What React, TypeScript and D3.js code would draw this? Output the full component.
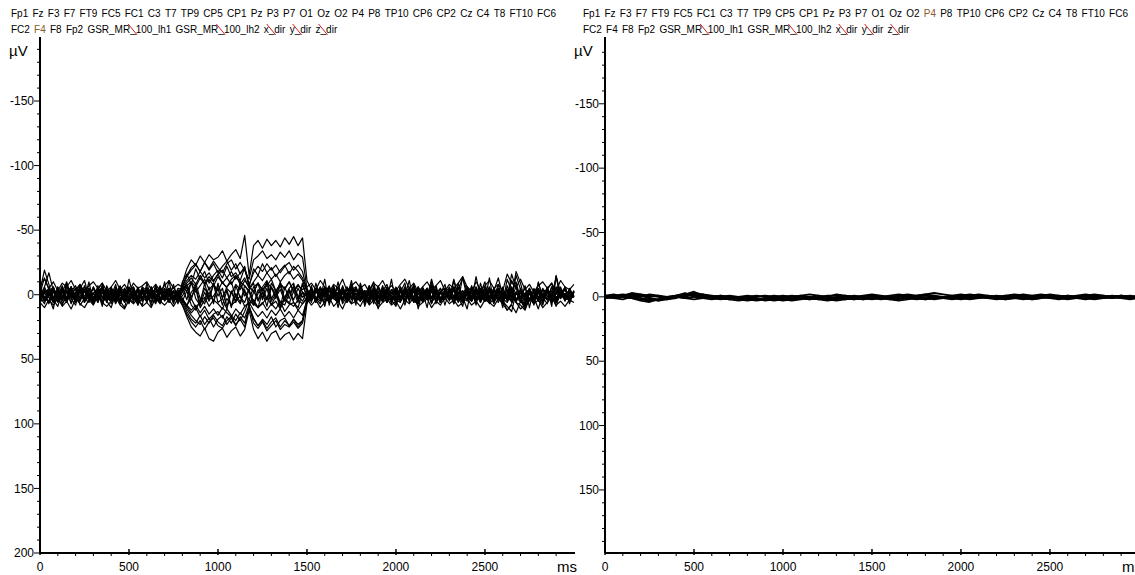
import React from 'react';
import * as d3 from 'd3';

// sample grids (ms)
const timeLeftMs: number[] = d3.range(0, 3001, 25);
const timeRightMs: number[] = d3.range(0, 3001, 50);

const channelRow1: string[] = ['Fp1','Fz','F3','F7','FT9','FC5','FC1','C3','T7','TP9','CP5','CP1','Pz','P3','P7','O1','Oz','O2','P4','P8','TP10','CP6','CP2','Cz','C4','T8','FT10','FC6'];
const channelRow2: string[] = ['FC2','F4','F8','Fp2','GSR_MR_100_lh1','GSR_MR_100_lh2','x_dir','y_dir','z_dir'];

const xTickLabels: number[] = [0, 500, 1000, 1500, 2000, 2500];
const yTickLabelsLeft: number[] = [-150, -100, -50, 0, 50, 100, 150, 200];
const yTickLabelsRight: number[] = [-150, -100, -50, 0, 50, 100, 150];

// Left panel traces, one value every 25 ms (µV, negative up)
// segments: 0-775 ms (32) | 800-1500 ms (29) | 1525-3000 ms (60)
const T1 = [4,-6,-17,-3,5,1,-4,7, -2,-8,3,6,-1,-5,2,-3, 7,1,-6,-2,4,-4,8,2, -5,3,-1,-7,5,0,-3,6,
 -9,-20,-27,-23,-30,-25,-31,-27, -29,-34,-26,-31,-35,-28,-46,-15, -38,-42,-36,-43,-38,-42,-37,-44, -39,-45,-38,-44,-11,
 -4,3,7,-2,-6,1,5,-3,2,-8, 4,-1,6,-5,-2,3,-7,2,5,-1, -3,8,-2,-6,4,1,-4,6,-1,-5, 3,-2,7,-4,-13,2,5,-3,1,-6, 6,-2,-5,3,-1,4,-7,2,8,-3, -1,5,-4,-2,6,-15,3,-1,4,-2];
const T2 = [-3,5,1,-6,3,8,-2,-4, 2,-7,4,-1,6,-3,-5,1, 3,-2,7,-5,-1,4,-6,2, 5,-3,0,6,-4,2,-8,3,
 -7,-15,-21,-24,-18,-25,-20,-26, -21,-17,-24,-27,-20,-25,-19,-12, -27,-30,-34,-28,-31,-27,-33,-29, -34,-27,-32,-29,-5,
 2,-5,4,-1,-7,3,6,-2,1,-4, -6,5,-1,3,-3,7,-2,-5,2,4, 6,-3,1,-8,2,5,-1,-4,3,-2, -5,4,-12,1,6,-3,2,-6,4,1, -2,7,-4,3,-1,-6,5,-2,1,-3, 4,-5,2,7,-3,-1,-6,4,2,-2];
const T3 = [6,-1,-5,3,-3,7,2,-6, 1,4,-4,-2,5,-7,3,1, -5,6,-2,2,-4,-1,5,-3, 4,-6,3,7,-2,-4,1,-1,
 -5,-11,-15,-12,-18,-13,-17,-11, -16,-19,-13,-18,-12,-17,-20,-8, -17,-22,-18,-24,-19,-23,-17,-22, -25,-19,-23,-18,-3,
 5,-4,1,-2,6,-7,3,2,-5,4, -1,-3,7,-6,2,1,-4,5,-2,3, -6,4,-1,6,-3,-5,2,-12,1,4, 3,-2,-5,6,-1,4,-7,2,-3,5, 1,-4,3,-6,5,2,-2,-3,7,-5, 2,11,-1,4,-6,3,-2,1,5,-3];
const T4 = [-4,2,6,-3,1,-7,4,-2, 5,-5,3,-1,7,-4,-2,6, -6,2,4,-3,-1,5,-5,3, 1,-2,6,-6,3,-4,2,4,
 -2,-7,-10,-6,-13,-8,-12,-7, -14,-9,-6,-12,-15,-8,-13,-5, -10,-15,-11,-17,-12,-16,-10,-15, -18,-12,-16,-11,-2,
 -3,6,-2,-5,4,1,-6,3,-1,7, -4,2,-3,5,-7,1,4,-2,6,-5, 2,-1,-4,3,7,-6,1,-3,5,-2, -5,4,2,-6,3,-1,5,-14,2,-3, 6,-4,1,-2,4,-6,3,5,-1,-4, 3,-2,6,-5,1,9,-3,4,-2,1];
const T5 = [3,-6,2,5,-1,-4,6,-2, -7,3,1,-5,4,-2,6,-3, 2,-4,7,-1,-5,3,-2,5, -3,1,-6,4,2,-4,5,-1,
 8,17,25,29,32,26,34,36, 29,26,33,28,25,32,27,12, 27,34,29,36,30,28,35,31, 29,35,30,34,7,
 -1,4,-5,2,6,-3,1,-6,3,-2, 5,-4,2,7,-1,-5,3,-2,4,-6, 1,5,-3,2,-4,6,-1,-7,3,2, -2,4,-5,1,6,-3,-1,5,-4,2, -6,3,-2,4,12,7,-1,3,9,5, -3,2,-5,4,-1,6,-2,-4,3,1];
const T6 = [-5,3,-1,6,-4,2,5,-6, 1,-3,4,-2,7,-5,2,-1, -4,6,-3,1,5,-6,2,-2, 4,-5,3,6,-1,-3,2,-4,
 6,13,19,22,16,23,18,25, 19,16,23,18,24,17,22,10, 19,24,20,26,21,18,25,20, 24,19,25,20,5,
 4,-3,2,-6,5,-1,3,-4,6,-2, -5,1,4,-3,7,-6,2,-1,5,-4, 3,-2,-5,6,-1,4,-3,2,-7,5, 1,-4,3,-2,6,-5,2,4,-3,1, -6,5,-2,3,-4,1,6,11,8,-2, 4,-3,1,-5,2,6,-4,3,-1,2];
const T7 = [2,-3,7,-5,1,4,-2,-6, 3,5,-4,1,-1,6,-7,2, 4,-2,-5,3,6,-1,-3,5, -6,2,1,-4,4,-2,7,-3,
 3,8,12,8,14,9,15,11, 16,10,14,17,11,15,9,6, 12,17,13,18,12,16,11,17, 13,18,12,16,4,
 -2,5,-6,1,3,-4,6,-1,-5,2, 4,-3,1,-7,5,2,-2,6,-4,-1, 3,-5,2,4,-6,1,-3,7,-2,5, -4,1,-6,3,2,-2,5,-5,1,4, -3,6,-1,-4,2,5,-2,3,-6,4, 1,-2,5,-3,-1,4,-5,2,3,-2];
const T8 = [-6,4,1,-2,5,-5,3,-1, 6,-4,-2,3,-6,1,5,-3, -1,4,-5,2,7,-3,1,-4, 3,-6,5,-2,1,-1,4,-5,
 -4,-9,-13,-8,-15,-9,-14,-10, -16,-9,-13,-8,-14,-10,-7,-2, 7,10,6,12,7,11,5,13, 8,6,12,7,2,
 3,-1,-6,4,2,-4,6,-3,1,-5, 2,5,-2,-4,3,-7,1,6,-1,-3, 5,-2,4,-6,2,1,-5,3,-1,6, -4,2,-3,5,-1,-6,4,-2,3,1, -5,6,-2,2,-4,3,-15,-4,2,-1, 5,-3,1,4,-6,2,-1,3,-4,2];
const T9 = [5,-2,-4,3,1,-6,4,-1, 2,-5,6,-3,-1,4,-7,3, 5,-2,1,-4,3,6,-5,2, -1,-3,4,-6,2,5,-2,1,
 4,11,16,20,23,17,22,16, 21,24,17,22,15,20,13,4, -6,-9,-3,-10,-5,-2,-9,-4, -10,-3,-8,-2,1,
 -5,3,1,-4,6,-2,-1,4,-6,3, 2,-3,5,-5,1,7,-4,2,-2,4, -6,1,3,-3,5,-1,-4,6,-2,2, 4,-5,1,-2,6,-4,3,-1,-5,5, 2,-3,-13,1,4,-2,6,-5,3,-1, -2,4,-4,1,5,-3,2,-6,3,1];
const T10 = [-9,3,-2,6,-4,1,5,-5, 2,-1,-6,4,3,-3,7,-2, -4,5,-1,2,-6,3,1,-5, 6,-3,2,-1,-5,4,-2,3,
 3,9,-2,-6,7,-9,4,1, -5,8,-3,10,-7,2,6,-4, -9,5,-2,9,-6,3,-10,4, 7,-3,6,-8,2,
 -2,6,-4,1,-5,3,5,-3,2,-6, 4,-1,-3,6,-5,2,1,-4,7,-2, -3,5,-6,2,4,-1,-5,3,-2,6, -4,1,3,-6,5,-2,-1,4,-3,2, 6,-5,1,-2,3,-16,-5,2,4,-3, 1,-4,5,-2,3,-6,2,1,-3,2];
const T11 = [2,7,-3,-5,1,4,-8,3, -1,5,-4,2,6,-2,-6,4, 1,-3,5,-5,2,-1,7,-4, -2,3,-6,5,1,-4,3,-2,
 -6,4,-10,3,8,-2,5,-9, 1,-5,9,-3,6,-7,-2,4, 8,-4,2,-9,5,-1,10,-6, 3,-7,1,5,-2,
 4,-3,1,-6,5,2,-2,-5,6,-1, -4,3,2,-7,4,-2,5,-3,1,6, -5,2,-1,4,-6,3,1,-3,5,-2, 2,-4,6,-1,-3,5,-5,2,4,-6, 1,3,-2,7,-12,-3,4,-1,2,-5, 3,-2,6,-4,1,-1,-3,4,2,-2];
const T12 = [-1,-13,-4,5,-2,3,-6,1, 4,-3,6,-5,2,-1,-4,5, -2,7,-3,1,-6,4,2,-5, 3,-1,5,-4,-2,6,-3,1,
 5,-3,8,12,4,-5,2,-8, 6,3,-6,-10,2,7,-4,9, -2,-9,4,-5,8,1,-7,3, -4,6,10,-2,1,
 -4,2,5,-3,1,-6,3,-1,4,-5, 6,-2,-3,5,-4,1,2,-6,3,-1, 5,-4,1,-2,6,-5,3,2,-3,4, -1,-6,2,5,-3,1,-4,6,-2,3, -5,1,4,-2,3,-11,-5,2,-1,4, -3,5,-1,-4,2,6,-2,-5,3,1];
const T13 = [6,-3,-1,4,-6,2,5,-2, -4,3,-7,1,6,-3,2,-5, 4,-1,-3,6,-4,1,3,-6, 5,-2,2,-5,4,-1,-3,6,
 -3,-8,2,-5,10,4,-6,7, -9,3,11,-2,5,-10,1,-4, 8,-1,-6,-11,3,-3,9,2, -5,-9,4,-2,6,
 2,-5,3,-2,6,-4,1,4,-6,2, -1,5,-3,1,-5,6,-2,3,-4,2, 5,-6,1,-3,4,2,-5,6,-1,-2, 3,-4,7,-2,1,-6,4,-3,2,5, -3,1,-5,3,6,-2,-10,4,-1,3, 2,-4,6,-1,-3,4,-2,5,-5,1];
const T14 = [-5,2,6,-4,1,-2,5,-6, 3,4,-3,1,-5,6,-2,-1, 4,-6,2,5,-3,1,-4,3, -2,6,-5,2,4,-1,-6,3,
 1,-6,4,-9,3,7,-2,5, -8,2,-4,9,-1,6,-7,-3, 5,10,-2,4,-9,-3,6,8, -1,-6,3,-9,2,
 -5,4,1,-3,6,-2,-4,5,-1,3, -6,2,4,-5,1,3,-2,6,-4,-1, 5,-3,2,-6,4,1,-2,3,-5,6, -3,1,-4,5,-14,-2,3,-1,6,-4, 2,-5,3,1,-3,6,-2,4,11,-1, 4,-9,2,-3,5,-1,2,-4,1,-2];
const T15 = [3,5,-2,-6,4,1,-3,6, -1,-4,5,2,-6,3,-2,4, -5,1,6,-3,2,-4,5,-1, 3,-6,2,4,-2,-5,1,6,
 -6,-14,-19,-23,-18,-25,-19,-24, -17,-22,-26,-19,-24,-16,-22,-6, -3,4,-5,3,-6,2,-4,5, -3,4,-5,2,-1,
 -3,4,-1,6,-5,2,-2,5,-4,1, 3,-6,2,-1,4,-3,6,-5,1,2, -4,5,-2,3,-6,1,4,-2,-3,6, -1,2,-5,4,1,-3,5,-6,2,-1, 4,-4,6,-2,1,-5,3,2,-1,-4, 6,-3,1,-2,5,-14,-2,4,-1,2];
const T16 = [-2,4,-5,1,6,-3,2,-6, 5,1,-4,3,-1,-5,6,2, -3,4,-6,1,5,-2,3,-4, 2,6,-3,-1,4,-5,1,3,
 8,15,21,25,20,27,21,18, 24,26,20,17,23,19,25,9, 18,24,19,23,17,25,20,18, 24,19,23,20,3,
 1,-4,3,6,-2,-5,2,4,-1,-6, 5,-3,1,2,-4,6,-2,-3,5,-1, 3,-6,2,4,-3,1,-5,6,-2,3, -1,4,-6,2,5,-3,1,-4,6,-2, 3,-1,-5,4,2,-3,6,8,12,3, -2,5,-4,1,3,-6,2,-1,4,-3];
const T17 = [-8,-12,-5,-10,-3,-9,-6,-11, -4,-8,-2,-7,-10,-5,-9,-3, -6,-11,-4,-8,-2,-9,-5,-7, -10,-4,-8,-3,-7,-11,-5,-8,
 -6,-3,-9,-2,-7,-12,-4,-8, -3,-10,-5,-1,-8,-4,-11,-6, -2,-9,-4,-7,-12,-3,-8,-5, -10,-2,-7,-4,-6,
 -9,-4,-11,-6,-2,-8,-5,-12,-3,-7, -10,-5,-8,-2,-9,-6,-11,-4,-7,-3, -8,-12,-5,-9,-2,-6,-10,-4,-7,-11, -3,-8,-5,-9,-14,-6,-2,-10,-4,-7, -11,-5,-8,-3,-16,-9,-6,-12,-4,-8, -2,-7,-10,-5,-9,-3,-11,-6,-4,-8];
const T18 = [6,10,4,8,2,9,5,11, 3,7,10,4,8,1,6,9, 5,2,8,11,4,7,3,9, 6,10,2,5,8,4,9,3,
 5,8,3,10,6,2,9,4, 7,11,3,8,5,1,9,6, 4,10,7,2,8,5,11,3, 6,9,4,7,3,
 8,4,10,6,2,9,5,11,3,7, 5,9,2,8,4,10,6,3,8,5, 11,4,7,2,9,6,3,10,5,8, 2,7,4,9,6,3,8,5,10,4, 6,9,3,7,12,8,14,5,9,3, 7,4,10,6,2,8,5,9,4,6];
const T19 = [-3,-19,-8,4,9,-2,-10,3, 8,-5,-11,2,7,-4,-9,5, 10,-1,-7,6,-12,1,8,-6, -3,9,-8,4,-10,6,-2,7,
 -10,-16,-8,-20,-12,-18,-9,-15, -19,-13,-22,-14,-17,-11,-21,-6, -20,-15,-24,-17,-21,-14,-19,-23, -16,-22,-18,-13,-4,
 6,-9,3,-12,8,-4,10,-7,2,-11, 5,-8,9,-3,-10,7,-5,4,-12,8, -2,-9,6,-6,11,-4,3,-10,7,-1, -8,5,-11,2,9,-6,-3,8,-9,4, -13,6,-4,10,-7,2,-18,-9,5,-3, 8,-10,3,-6,9,-14,2,-5,7,-2];
const T20 = [7,-4,2,11,-6,5,-9,1, -5,8,3,-10,6,-2,9,-7, 1,-8,5,10,-3,-6,4,8, -9,2,7,-5,3,-11,6,-1,
 4,9,14,10,17,12,19,15, 13,18,11,16,20,14,18,8, 22,26,21,28,24,20,27,23, 25,21,26,22,6,
 -7,5,-2,9,-6,3,-10,7,1,-4, 8,-9,2,6,-5,11,-3,-8,4,9, -6,1,-11,5,7,-2,10,-7,3,-5, 8,-3,6,-9,2,11,-6,4,-1,-10, 7,3,-8,5,9,13,-2,6,-7,10, -5,2,8,-4,-9,6,1,-6,4,-3];

// Right panel traces, one value every 50 ms
const R1 = [0,-1,-2,-1,0,-2,-1,1,0,-1, -2,0,1,2,1,0,1,2,1,0, 1,0,-1,0,1,0,1,2,1,0, 1,0,1,0,-1,0,1,2,1,0, 1,0,-1,0,1,0,-1,-2,-1,0, 1,0,-1,0,1,0,1,0,-1,0, 1];
const R2 = [-1,-2,0,1,2,3,2,1,-1,-3, 0,1,2,1,2,3,2,1,2,1, 2,1,0,1,2,1,2,1,2,0, -1,0,1,0,0,-1,-2,-1,0,1, 0,1,0,-1,0,1,0,1,0,-1, 0,1,2,1,0,1,0,1,0,1, 0];
const R3 = [1,0,-1,-3,-2,-1,0,2,1,-2, -4,-1,0,1,0,1,0,1,3,2, 1,2,1,0,-1,1,0,-1,0,1, 0,1,2,1,0,1,2,1,0,-1, -2,-1,0,1,0,-1,0,1,2,1, 0,-1,0,1,0,-1,-1,0,1,0, 0];
const R4 = [0,1,2,0,-1,1,3,2,0,1, 2,1,0,-1,0,2,3,2,1,2, 3,2,1,2,1,2,3,2,1,2, 1,2,1,0,1,2,1,0,1,2, 1,2,1,0,1,2,1,2,1,0, 1,2,1,0,1,2,1,0,1,2, 1];
const R5 = [-1,0,-1,-2,-1,0,-1,0,-1,-2, -1,-2,-1,0,-1,0,-1,0,-1,0, -1,0,-1,-2,-1,0,-2,-1,0,-1, -2,-1,0,-1,-2,-1,-2,-3,-2,-1, 0,-1,-2,-1,0,-1,-2,-1,0,-1, -2,-1,0,-1,-2,-1,0,-1,0,-1, 0];
const R6 = [0,1,0,1,3,4,2,1,0,1, 0,-1,0,1,2,1,1,2,1,0, 1,2,1,2,1,0,1,0,1,2, 1,0,1,2,1,0,-1,0,1,0, 1,0,1,0,1,2,1,0,1,0, -1,0,1,0,-1,0,1,0,-1,0, 0];
const R7 = [1,0,-1,0,1,2,3,1,0,-1, -3,-2,0,1,2,1,2,3,2,3, 2,3,2,1,2,3,2,1,2,1, 2,1,2,3,2,1,2,1,0,1, 2,1,0,1,2,1,0,1,2,1, 0,1,0,1,2,1,0,1,0,1, 1];
const R8 = [0,-1,0,-1,-2,1,2,0,-1,0, -2,-1,0,-1,0,1,0,-1,0,-1, 0,-1,0,1,0,-1,-1,0,-1,0, -1,0,-1,-2,-1,0,-1,0,1,0, -1,-2,-1,0,-1,0,-1,0,-1,-2, -1,0,-1,0,-1,-2,-1,0,-1,0, -1];

const leftTraces = [T1, T2, T3, T4, T5, T6, T7, T8, T9, T10, T11, T12, T13, T14, T15, T16, T17, T18, T19, T20];
const rightTraces = [R1, R2, R3, R4, R5, R6, R7, R8];

const FONT = "'Liberation Sans', Arial, sans-serif";

function measure(text: string, size: number): number {
  const c = document.createElement('canvas').getContext('2d');
  if (!c) return text.length * size * 0.55;
  c.font = `${size}px 'Liberation Sans'`;
  return c.measureText(text).width;
}

function Legend({ x0, width, brown }: { x0: number; width: number; brown: string }) {
  const size = 10;
  const w1 = channelRow1.map((t) => measure(t, size));
  const gap = (width - d3.sum(w1)) / (channelRow1.length - 1);
  const pos = (ws: number[]) => {
    const out: number[] = [];
    let x = x0;
    ws.forEach((w) => { out.push(x); x += w + gap; });
    return out;
  };
  const p1 = pos(w1);
  const w2 = channelRow2.map((t) => measure(t, size));
  const p2 = pos(w2);
  const redMarks: { x: number }[] = [];
  channelRow2.forEach((t, i) => {
    let idx = -1;
    if (t.startsWith('GSR')) idx = t.indexOf('_', 4);
    else if (t.includes('_dir')) idx = t.indexOf('_');
    if (idx >= 0) redMarks.push({ x: p2[i] + measure(t.slice(0, idx), size) });
  });
  return (
    <g fontFamily={FONT} fontSize={size} fill="#000">
      {channelRow1.map((t, i) => (
        <text key={'a' + i} x={p1[i]} y={17} fill={t === brown ? '#8a5a2b' : '#000'}>{t}</text>
      ))}
      {channelRow2.map((t, i) => (
        <text key={'b' + i} x={p2[i]} y={33} fill={t === brown ? '#8a5a2b' : '#000'}>{t}</text>
      ))}
      {redMarks.map((m, i) => (
        <line key={'r' + i} x1={m.x - 2} y1={24} x2={m.x + 7} y2={35} stroke="#d02020" strokeWidth={1} />
      ))}
    </g>
  );
}

function Panel({ offset, traces, times, yDomain, yTicks, legendX, brown, lineWidth }: {
  offset: number; traces: number[][]; times: number[]; yDomain: [number, number]; yTicks: number[];
  legendX: number; brown: string; lineWidth: number;
}) {
  const x = d3.scaleLinear().domain([0, 3006]).range([40 + offset, 575 + offset]);
  const y = d3.scaleLinear().domain(yDomain).range([42, 553]);
  const line = d3.line<number>().x((_, i) => x(times[i])).y((d) => y(d));
  const yMinor = d3.range(-190, 201, 10).filter((v) => v >= yDomain[0] && v <= yDomain[1] && v % 50 !== 0);
  const xMinor = d3.range(100, 3001, 100).filter((v) => v % 500 !== 0);
  const ax = x(0);
  const ay = y(yDomain[1]);
  return (
    <g>
      <Legend x0={legendX} width={545} brown={brown} />
      <g fill="none" stroke="#000" strokeWidth={lineWidth} strokeLinejoin="round">
        {traces.map((t, i) => <path key={i} d={line(t.slice(0, times.length)) || ''} />)}
      </g>
      {/* y axis */}
      <line x1={ax} x2={ax} y1={37} y2={ay} stroke="#000" strokeWidth={2} />
      {yTicks.map((v) => (
        <g key={'yt' + v}>
          <line x1={ax - 6} x2={ax} y1={y(v)} y2={y(v)} stroke="#000" strokeWidth={1} />
          <text x={ax - 6} y={y(v)} dy="0.35em" textAnchor="end" fontFamily={FONT} fontSize={12}>{v}</text>
        </g>
      ))}
      {yMinor.map((v) => (
        <line key={'ym' + v} x1={ax - 3} x2={ax} y1={y(v)} y2={y(v)} stroke="#000" strokeWidth={1} />
      ))}
      <text x={ax - 31} y={56} fontFamily={FONT} fontSize={15}>µV</text>
      {/* x axis */}
      <line x1={ax} x2={575 + offset} y1={ay} y2={ay} stroke="#000" strokeWidth={2} />
      {xTickLabels.map((v) => (
        <g key={'xt' + v}>
          <line x1={x(v)} x2={x(v)} y1={ay - 4} y2={ay + 2} stroke="#000" strokeWidth={1.5} />
          <text x={x(v)} y={571} textAnchor="middle" fontFamily={FONT} fontSize={12}>{v}</text>
        </g>
      ))}
      {xMinor.map((v) => (
        <line key={'xm' + v} x1={x(v)} x2={x(v)} y1={ay} y2={ay + 3} stroke="#000" strokeWidth={1} />
      ))}
      <text x={557 + offset} y={572} fontFamily={FONT} fontSize={15}>ms</text>
    </g>
  );
}

export default function App() {
  return (
    <svg width={1135} height={575} style={{ position: 'absolute', left: 0, top: 0, background: '#fff' }}>
      <rect width={1135} height={575} fill="#fff" />
      <Panel offset={0} traces={leftTraces} times={timeLeftMs} yDomain={[-195.7, 200]} yTicks={yTickLabelsLeft}
        legendX={11} brown="F4" lineWidth={1.2} />
      <Panel offset={565} traces={rightTraces} times={timeRightMs} yDomain={[-198, 199]} yTicks={yTickLabelsRight}
        legendX={583} brown="P4" lineWidth={1.8} />
    </svg>
  );
}
